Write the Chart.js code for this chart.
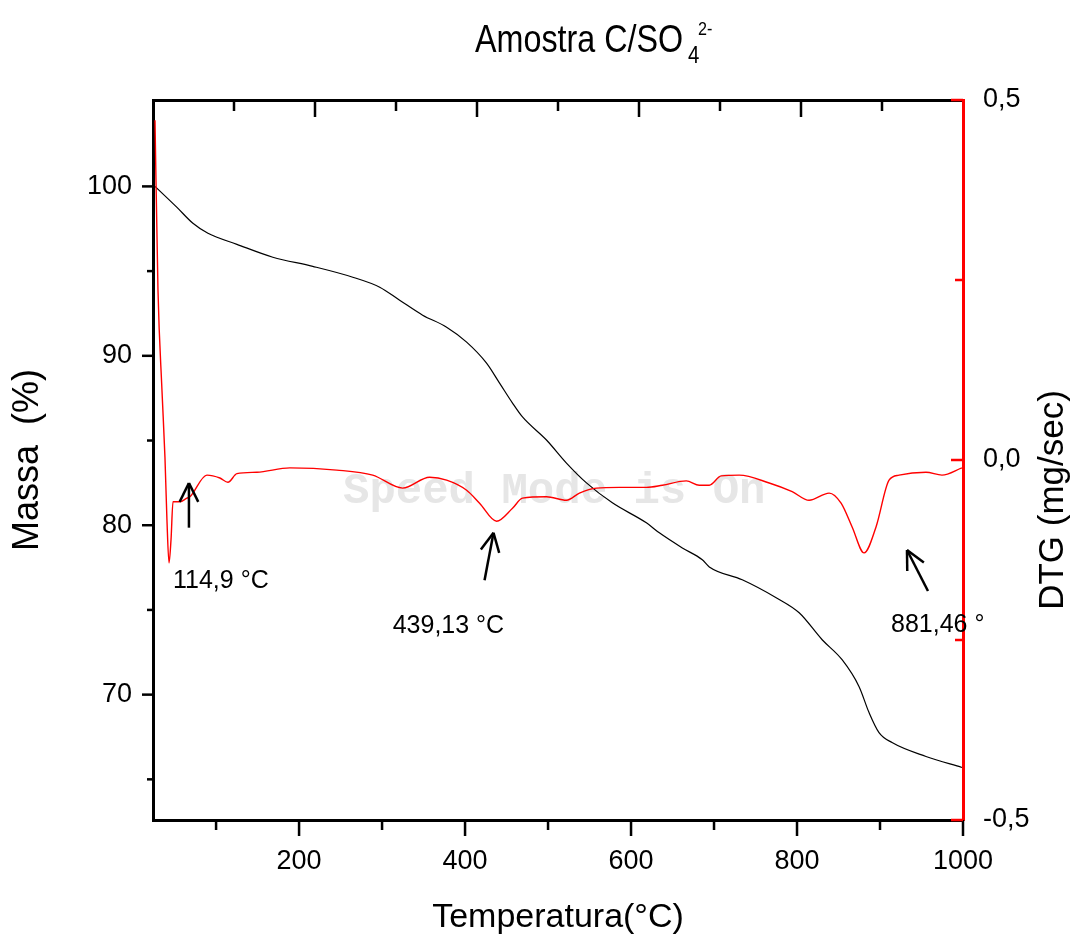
<!DOCTYPE html>
<html>
<head>
<meta charset="utf-8">
<script src="https://cdn.jsdelivr.net/npm/chart.js@4.4.1/dist/chart.umd.min.js"></script>
<style>
  html, body { margin: 0; padding: 0; background: #fff; }
  #wrap { width: 1076px; height: 938px; position: relative; }
</style>
</head>
<body>
<div id="wrap"><canvas id="tgChart"></canvas></div>
<script>
// TG curve (massa %, left axis)
const tempTG = [26.4, 52.9, 72.1, 90.2, 125.1, 168.4, 216.5, 264.7, 297.2, 321.2, 348.9, 377.8, 401.9, 425.9, 441.6, 457.2, 469.2, 498.1, 522.2, 546.3, 577.5, 618.5, 634.1, 661.8, 685.9, 694.3, 734.0, 774.9, 802.6, 830.3, 854.3, 874.8, 886.8, 898.8, 914.5, 955.4, 998.7];
const massTG = [100.0, 98.76, 97.82, 97.23, 96.58, 95.82, 95.28, 94.64, 94.05, 93.28, 92.40, 91.69, 90.81, 89.57, 88.39, 87.21, 86.39, 85.03, 83.67, 82.50, 81.32, 80.14, 79.55, 78.66, 77.96, 77.54, 76.78, 75.72, 74.83, 73.24, 72.06, 70.47, 68.94, 67.76, 67.17, 66.35, 65.70];

// DTG curve (mg/sec, right axis)
const tempDTG = [26.4, 30.0, 34.8, 38.4, 40.8, 43.3, 45.7, 48.1, 56.5, 64.9, 68.5, 89.0, 104.6, 114.3, 125.1, 149.2, 188.9, 245.4, 288.7, 324.8, 357.3, 377.8, 401.9, 417.5, 438.0, 457.2, 469.2, 498.1, 522.2, 537.8, 558.3, 586.0, 618.5, 637.7, 666.6, 682.2, 694.3, 708.7, 730.4, 766.5, 794.2, 814.6, 838.7, 853.1, 866.4, 880.8, 895.2, 910.9, 922.9, 955.4, 974.7, 998.7];
const valDTG = [0.472, 0.236, 0.097, 0.004, -0.083, -0.143, -0.111, -0.058, -0.058, -0.053, -0.051, -0.021, -0.025, -0.031, -0.019, -0.017, -0.011, -0.014, -0.021, -0.039, -0.024, -0.028, -0.042, -0.060, -0.085, -0.067, -0.053, -0.051, -0.056, -0.046, -0.039, -0.038, -0.038, -0.035, -0.029, -0.035, -0.035, -0.022, -0.021, -0.032, -0.044, -0.056, -0.046, -0.060, -0.093, -0.129, -0.093, -0.028, -0.021, -0.017, -0.021, -0.011];

// tick values
const xTicks = [100, 200, 300, 400, 500, 600, 700, 800, 900, 1000];
const xTopTicks = [100, 200, 300, 400, 500, 600, 700, 800, 900];
const massTicks = [65, 70, 75, 80, 85, 90, 95, 100];
const dtgTicks = [-0.5, -0.25, 0, 0.25, 0.5];

// peak labels, anchored in (temperature, DTG) units
const peakNotes = [
  { text: "114,9 °C", tail: [67.3, -0.094], tip: [67.3, -0.032], label: [48.1, -0.178] },
  { text: "439,13 °C", tail: [423.5, -0.167], tip: [434.3, -0.101], label: [312.8, -0.240] },
  { text: "881,46 °", tail: [957.8, -0.182], tip: [932.5, -0.125], label: [913.3, -0.239] },
];

Chart.defaults.font.family = "'Liberation Sans', Arial, sans-serif";
Chart.defaults.color = "#000";

const toPoints = (xs, ys) => xs.map((x, i) => ({ x: x, y: ys[i] }));

function line(ctx, x1, y1, x2, y2) {
  ctx.beginPath();
  ctx.moveTo(x1, y1);
  ctx.lineTo(x2, y2);
  ctx.stroke();
}

// tick marks: bottom/left outward, top/right inward
const tickMarksPlugin = {
  id: "tickMarks",
  afterDraw(chart) {
    const { ctx, chartArea: a, scales } = chart;
    ctx.save();
    ctx.lineWidth = 2.5;
    ctx.strokeStyle = "#000";
    scales.x.ticks.forEach((t) => {
      const px = scales.x.getPixelForValue(t.value);
      line(ctx, px, a.bottom, px, a.bottom + (t.value % 200 === 0 ? 16 : 10));
    });
    scales.x2.ticks.forEach((t) => {
      const px = scales.x2.getPixelForValue(t.value);
      line(ctx, px, a.top, px, a.top + (t.value % 200 === 0 ? 17 : 11));
    });
    scales.y.ticks.forEach((t) => {
      const py = scales.y.getPixelForValue(t.value);
      line(ctx, a.left, py, a.left - (t.value % 10 === 0 ? 11 : 6), py);
    });
    ctx.strokeStyle = "#ff0000";
    scales.y1.ticks.forEach((t) => {
      const py = scales.y1.getPixelForValue(t.value);
      const big = Math.abs(t.value) === 0.5 || t.value === 0;
      line(ctx, a.right, py, a.right - (big ? 12 : 8), py);
    });
    ctx.restore();
  },
};

// watermark, title, right axis title and peak arrows
const textPlugin = {
  id: "texts",
  beforeDatasetsDraw(chart) {
    const { ctx } = chart;
    ctx.save();
    ctx.font = "bold 44px 'Liberation Mono', 'DejaVu Sans Mono', monospace";
    ctx.fillStyle = "#e6e6e6";
    ctx.textBaseline = "alphabetic";
    ctx.fillText("Speed Mode is On", 343, 503);
    ctx.restore();
  },
  afterDatasetsDraw(chart) {
    const { ctx, scales } = chart;
    const sx = scales.x, sy = scales.y1;
    ctx.save();
    ctx.strokeStyle = "#000";
    ctx.fillStyle = "#000";
    ctx.lineWidth = 2.5;
    ctx.font = "25px 'Liberation Sans', Arial, sans-serif";
    ctx.textBaseline = "alphabetic";
    peakNotes.forEach((n) => {
      const x1 = sx.getPixelForValue(n.tail[0]), y1 = sy.getPixelForValue(n.tail[1]);
      const x2 = sx.getPixelForValue(n.tip[0]), y2 = sy.getPixelForValue(n.tip[1]);
      line(ctx, x1, y1, x2, y2);
      const ang = Math.atan2(y2 - y1, x2 - x1);
      const head = 21, spread = 0.46;
      line(ctx, x2, y2, x2 - head * Math.cos(ang - spread), y2 - head * Math.sin(ang - spread));
      line(ctx, x2, y2, x2 - head * Math.cos(ang + spread), y2 - head * Math.sin(ang + spread));
      ctx.fillText(n.text, sx.getPixelForValue(n.label[0]), sy.getPixelForValue(n.label[1]));
    });
    ctx.restore();
  },
  afterDraw(chart) {
    const { ctx } = chart;
    ctx.save();
    ctx.fillStyle = "#000";
    ctx.textBaseline = "alphabetic";
    // title, slightly condensed like the original
    ctx.save();
    ctx.translate(475, 52);
    ctx.scale(0.85, 1);
    ctx.font = "38px 'Liberation Sans', Arial, sans-serif";
    ctx.fillText("Amostra C/SO", 0, 0);
    ctx.restore();
    ctx.save();
    ctx.translate(688, 63);
    ctx.scale(0.85, 1);
    ctx.font = "24px 'Liberation Sans', Arial, sans-serif";
    ctx.fillText("4", 0, 0);
    ctx.restore();
    ctx.save();
    ctx.translate(698, 35);
    ctx.scale(0.85, 1);
    ctx.font = "19px 'Liberation Sans', Arial, sans-serif";
    ctx.fillText("2-", 0, 0);
    ctx.restore();
    // right axis title reads bottom to top
    ctx.translate(1063, 500);
    ctx.rotate(-Math.PI / 2);
    ctx.textAlign = "center";
    ctx.font = "35px 'Liberation Sans', Arial, sans-serif";
    ctx.fillText("DTG (mg/sec)", 0, 0);
    ctx.restore();
  },
};

const ctx = document.getElementById("tgChart").getContext("2d");

new Chart(ctx, {
  type: "line",
  data: {
    datasets: [
      {
        label: "DTG",
        data: toPoints(tempDTG, valDTG),
        xAxisID: "x",
        yAxisID: "y1",
        borderColor: "#ff0000",
        borderWidth: 1.4,
        pointRadius: 0,
        cubicInterpolationMode: "monotone",
      },
      {
        label: "TG",
        data: toPoints(tempTG, massTG),
        xAxisID: "x",
        yAxisID: "y",
        borderColor: "#000",
        borderWidth: 1.2,
        pointRadius: 0,
        cubicInterpolationMode: "monotone",
      },
    ],
  },
  options: {
    responsive: true,
    maintainAspectRatio: false,
    animation: false,
    layout: { padding: 0 },
    plugins: {
      legend: { display: false },
      tooltip: { enabled: false },
      title: { display: false },
    },
    scales: {
      x: {
        type: "linear",
        position: "bottom",
        min: 24,
        max: 1000,
        afterBuildTicks: (axis) => { axis.ticks = xTicks.map((v) => ({ value: v })); },
        afterFit: (axis) => { axis.height = 118; },
        grid: { display: false, drawTicks: false },
        border: { display: true, color: "#000", width: 3 },
        ticks: {
          autoSkip: false,
          maxRotation: 0,
          padding: 25,
          font: { size: 27 },
          callback: (v) => (v % 200 === 0 ? String(v) : ""),
        },
        title: {
          display: true,
          text: "Temperatura(°C)",
          font: { size: 34 },
          padding: { top: 0, bottom: 0 },
        },
      },
      x2: {
        type: "linear",
        position: "top",
        min: 0,
        max: 1000,
        afterBuildTicks: (axis) => { axis.ticks = xTopTicks.map((v) => ({ value: v })); },
        afterFit: (axis) => { axis.height = 100; },
        grid: { display: false, drawTicks: false },
        border: { display: true, color: "#000", width: 3 },
        ticks: { display: false },
      },
      y: {
        type: "linear",
        position: "left",
        min: 62.6,
        max: 105.1,
        afterBuildTicks: (axis) => { axis.ticks = massTicks.map((v) => ({ value: v })); },
        afterFit: (axis) => { axis.width = 153; },
        grid: { display: false, drawTicks: false },
        border: { display: true, color: "#000", width: 3 },
        ticks: {
          autoSkip: false,
          padding: 21,
          font: { size: 27 },
          callback: (v) => (v % 10 === 0 ? String(v) : ""),
        },
        title: {
          display: true,
          text: "Massa  (%)",
          font: { size: 36 },
          padding: { top: 6, bottom: 0 },
        },
      },
      y1: {
        type: "linear",
        position: "right",
        min: -0.5,
        max: 0.5,
        afterBuildTicks: (axis) => { axis.ticks = dtgTicks.map((v) => ({ value: v })); },
        afterFit: (axis) => { axis.width = 113; },
        grid: { display: false, drawTicks: false },
        border: { display: true, color: "#ff0000", width: 3 },
        ticks: {
          autoSkip: false,
          padding: 20,
          font: { size: 27 },
          callback: (v) => (v % 0.5 === 0 ? v.toFixed(1).replace(".", ",") : ""),
        },
      },
    },
  },
  plugins: [tickMarksPlugin, textPlugin],
});
</script>
</body>
</html>
